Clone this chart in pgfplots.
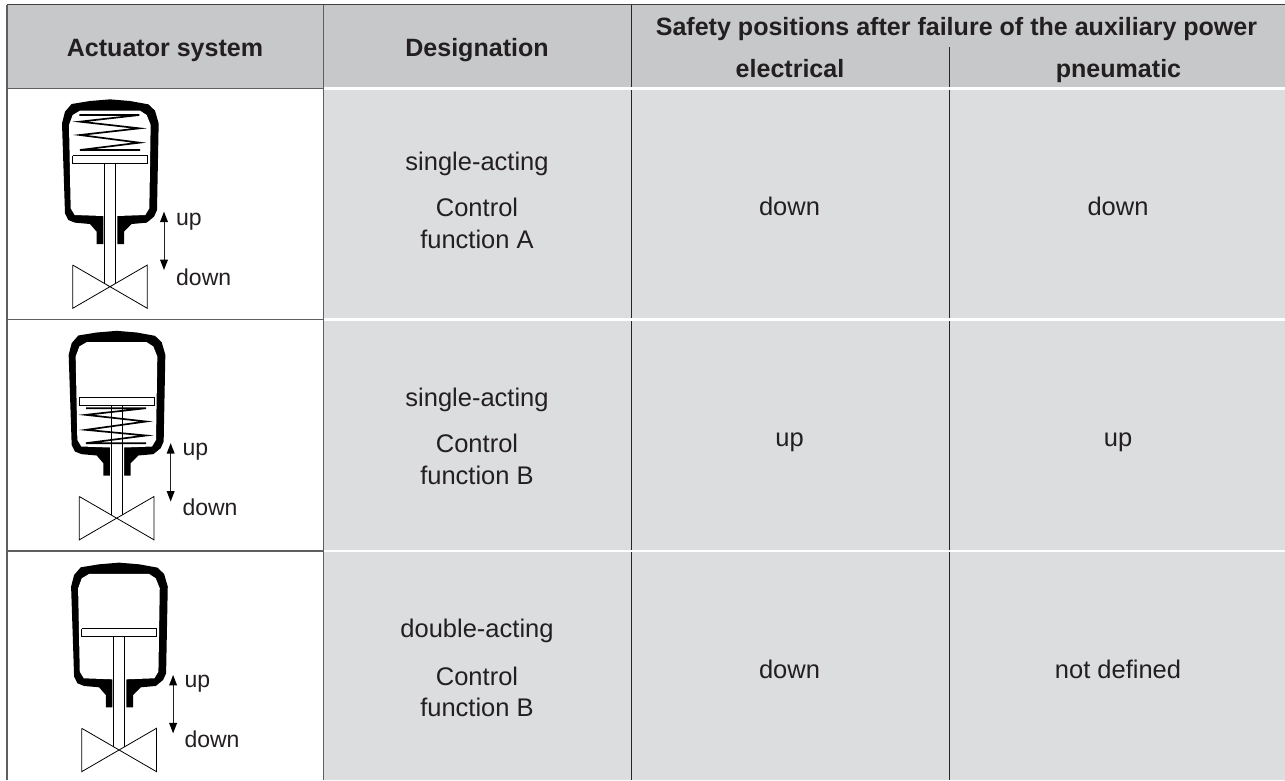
\documentclass[border=0pt]{standalone}
\usepackage{pgfplots}
\usepackage{pgfplotstable}
\usepackage{fontspec}
\setmainfont{Liberation Sans}
\pgfplotsset{compat=1.18}
\definecolor{ink}{HTML}{231F20}
\definecolor{headgrey}{HTML}{C6C8CA}
\definecolor{bodygrey}{HTML}{DCDDDF}
\definecolor{rulegrey}{HTML}{5F5F60}
\pgfplotstableread{
x y
215 312
270 303
330 298
390 303
445 313
465 332
476 370
471 630
462 650
440 668
395 672
372 695
372 732
290 732
290 695
270 672
225 668
205 660
195 640
186 370
195 335
}\housingouter
\pgfplotstableread{
x y
240 332
420 332
440 345
452 375
448 625
436 645
352 648
352 736
310 736
310 648
224 645
212 625
207 375
218 345
}\housinginner
\pgfplotstableread{
x y
218 795
442 925
442 795
218 925
218 795
}\valve
\pgfplotstableread{
x y
238 345
418 345
240 365
418 385
240 405
418 428
240 450
420 450
}\springA
\pgfplotstableread{
x y
238 530
418 530
238 550
418 570
238 595
418 612
238 635
418 635
}\springB
\pgfplotstableread{
x y
492 660
492 785
}\shaft
\pgfplotstableread{
x y
492 635
480 666
504 666
}\headup
\pgfplotstableread{
x y
492 810
480 779
504 779
}\headdown
\newcommand{\Body}[2]{%
  \addplot[fill=black,draw=none] table[x expr=\thisrow{x}/3+#1,y expr=\thisrow{y}/3+#2] {\housingouter};
  \addplot[fill=white,draw=none] table[x expr=\thisrow{x}/3+#1,y expr=\thisrow{y}/3+#2] {\housinginner};
  \addplot[draw=black,line width=0.8pt] table[x expr=\thisrow{x}/3+#1,y expr=\thisrow{y}/3+#2] {\valve};
  \addplot[draw=ink,line width=0.7pt] table[x expr=\thisrow{x}/3+#1,y expr=\thisrow{y}/3+#2] {\shaft};
  \addplot[fill=black,draw=none] table[x expr=\thisrow{x}/3+#1,y expr=\thisrow{y}/3+#2] {\headup};
  \addplot[fill=black,draw=none] table[x expr=\thisrow{x}/3+#1,y expr=\thisrow{y}/3+#2] {\headdown};
}
\newcommand{\Piston}[3]{%
  \addplot[fill=white,draw=black,line width=0.8pt] coordinates {(218/3+#1,#3+#2) (442/3+#1,#3+#2) (442/3+#1,#3+8+#2) (218/3+#1,#3+8+#2) (218/3+#1,#3+#2)};
  \addplot[draw=black,line width=0.8pt] coordinates {(313/3+#1,#3+8+#2) (313/3+#1,850/3+#2)};
  \addplot[draw=black,line width=0.8pt] coordinates {(347/3+#1,#3+8+#2) (347/3+#1,850/3+#2)};
}
\newcommand{\Row}[2]{\addplot[fill=bodygrey,draw=none] coordinates {(324,#1) (1285,#1) (1285,#2) (324,#2) (324,#1)};}
\newcommand{\txt}[4][\fontsize{25.5}{28}\selectfont]{\node[anchor=base,inner sep=0pt,text=ink,font=#1] at (axis cs:#2,#3) {#4};}
\newcommand{\txtb}[3]{\txt[\fontsize{25.05}{28}\selectfont\bfseries]{#1}{#2}{#3}}
\newcommand{\lbl}[3]{\node[anchor=base west,inner sep=0pt,text=ink,font=\fontsize{23}{26}\selectfont] at (axis cs:#1,#2) {#3};}
\begin{document}
\begin{tikzpicture}
\begin{axis}[
  scale only axis,width=1285pt,height=780pt,
  xmin=0,xmax=1285,ymin=0,ymax=780,y dir=reverse,
  hide axis,clip=true]
% page
\addplot[fill=white,draw=none] coordinates {(0,0) (1285,0) (1285,780) (0,780) (0,0)};
% header
\addplot[fill=headgrey,draw=none] coordinates {(7,5) (1285,5) (1285,88) (7,88) (7,5)};
% body columns
\Row{88}{780}
% white separators
\addplot[draw=white,line width=2.6pt] coordinates {(324,88.7) (1285,88.7)};
\addplot[draw=white,line width=2.6pt] coordinates {(324,319.5) (1285,319.5)};
\addplot[draw=white,line width=2.6pt] coordinates {(324,551) (1285,551)};
% rules
\addplot[draw=black!75,line width=1.3pt] coordinates {(7,4.6) (1285,4.6)};
\addplot[draw=rulegrey,line width=1.2pt] coordinates {(7,88.4) (323.5,88.4)};
\addplot[draw=rulegrey,line width=1.2pt] coordinates {(7,319.5) (323.5,319.5)};
\addplot[draw=rulegrey,line width=1.2pt] coordinates {(7,551) (323.5,551)};
\addplot[draw=rulegrey,line width=1.4pt] coordinates {(7,4.6) (7,780)};
\addplot[draw=rulegrey,line width=1.4pt] coordinates {(323.5,4.6) (323.5,780)};
\addplot[draw=black!85,line width=0.8pt] coordinates {(631,5) (631,87)};
\addplot[draw=black!85,line width=0.8pt] coordinates {(631,90) (631,318)};
\addplot[draw=black!85,line width=0.8pt] coordinates {(631,321) (631,549.6)};
\addplot[draw=black!85,line width=0.8pt] coordinates {(631,552.4) (631,780)};
\addplot[draw=black!85,line width=0.8pt] coordinates {(949,47) (949,87)};
\addplot[draw=black!85,line width=0.8pt] coordinates {(949,90) (949,318)};
\addplot[draw=black!85,line width=0.8pt] coordinates {(949,321) (949,549.6)};
\addplot[draw=black!85,line width=0.8pt] coordinates {(949,552.4) (949,780)};
% diagram 1
\Body{0}{0}
\Piston{0}{0}{155.7}
\addplot[draw=black,line width=1.7pt] table[x expr=\thisrow{x}/3,y expr=\thisrow{y}/3] {\springA};
% diagram 2
\Body{6.67}{231.5}
\Piston{6.67}{231.5}{165.5}
\addplot[draw=black,line width=1.7pt] table[x expr=\thisrow{x}/3+6.67,y expr=\thisrow{y}/3+231.5] {\springB};
% diagram 3
\Body{9.1}{463.3}
\Piston{9.1}{463.3}{165.5}
% labels
\lbl{176}{225}{up}
\lbl{176}{285}{down}
\lbl{182.3}{455}{up}
\lbl{182.3}{515}{down}
\lbl{184.3}{687.7}{up}
\lbl{184.3}{747}{down}
% header text
\txtb{165}{56}{Actuator system}
\txtb{477}{56}{Designation}
\txtb{956.5}{35}{Safety positions after failure of the auxiliary power}
\txtb{790}{77.3}{electrical}
\txtb{1118.5}{77.3}{pneumatic}
% body text
\txt{477}{170}{single-acting}
\txt{477}{216.7}{Control}
\txt{477}{248.3}{function A}
\txt{789.5}{215}{down}
\txt{1118}{215}{down}
\txt{477}{406}{single-acting}
\txt{477}{452.7}{Control}
\txt{477}{484.7}{function B}
\txt{789.5}{446}{up}
\txt{1118}{446}{up}
\txt{477}{637.3}{double-acting}
\txt{477}{685}{Control}
\txt{477}{716.7}{function B}
\txt{789.5}{678.3}{down}
\txt{1118}{678.3}{not defined}
\end{axis}
\end{tikzpicture}
\end{document}
